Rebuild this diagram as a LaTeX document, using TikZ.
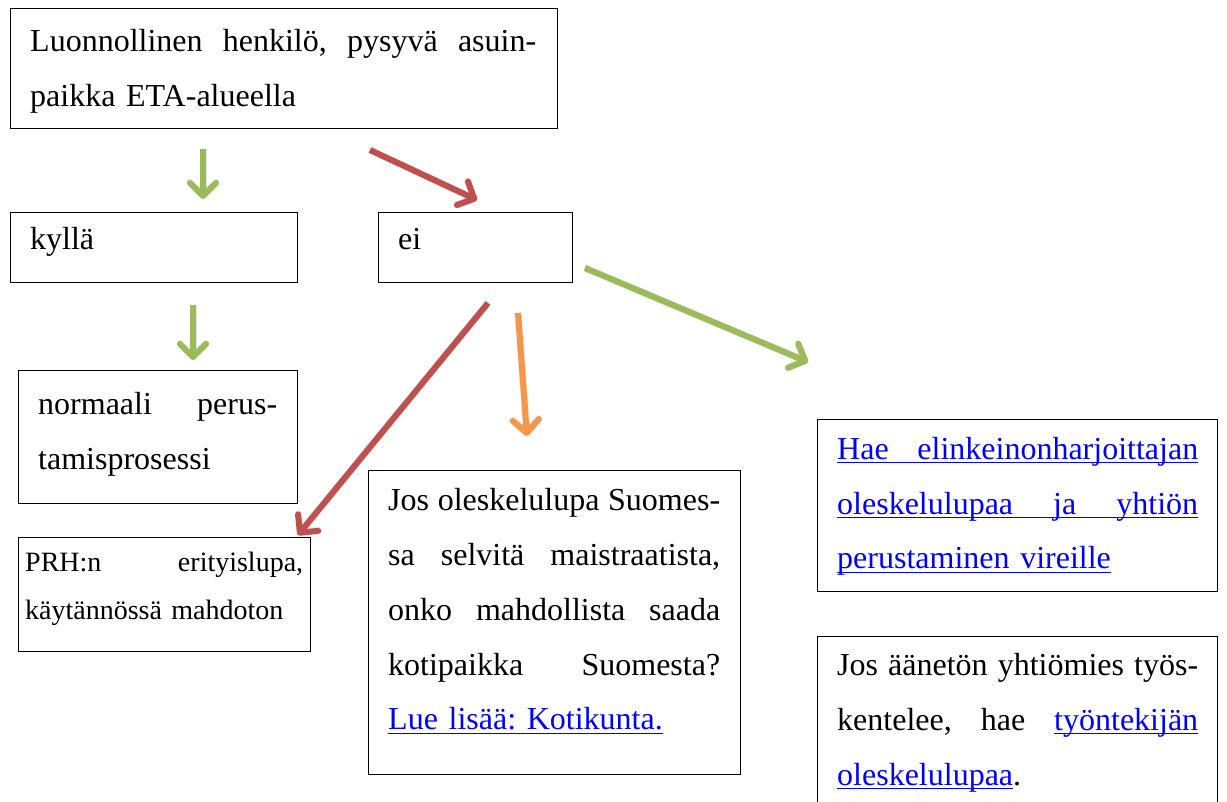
\documentclass[tikz,border=0pt]{standalone}
\usepackage{fontspec}
\setmainfont{Liberation Serif}
\usetikzlibrary{arrows.meta}
\definecolor{agreen}{HTML}{9BBB59}
\definecolor{ared}{HTML}{C0504D}
\definecolor{aorange}{HTML}{F79646}
\definecolor{lnk}{HTML}{0000FF}
\frenchspacing
\newcommand\J{\hfill}
\newcommand\fline[1]{\leavevmode\hbox to\linewidth{#1}}
\newcommand\ulj[1]{\leavevmode\hbox to\linewidth{#1}\llap{\rule[-4pt]{\linewidth}{1.3pt}}}
\newcommand\uln[1]{\leavevmode\sbox0{#1}\usebox0\llap{\rule[-4pt]{\wd0}{1.3pt}}}
\begin{document}
\begin{tikzpicture}[x=1pt,y=-1pt,
  box/.style={draw, line width=1.1pt, rectangle, inner sep=0pt, anchor=north west},
  txt/.style={anchor=base west, inner sep=0pt, align=left, font=\fontsize{32}{55}\selectfont},
  smalltxt/.style={anchor=base west, inner sep=0pt, align=left, font=\fontsize{28}{48}\selectfont},
  arr/.style={line width=6pt, -{Straight Barb[length=13pt,width=26pt,round]}},
  shad/.style={line width=7pt, black, opacity=0.10, -{Straight Barb[length=13pt,width=26pt,round]}, shift={(2pt,-2pt)}}]
\useasboundingbox (0,0) rectangle (1227,802);
\clip (0,0) rectangle (1227,802);
\fill[white] (0,0) rectangle (1227,802);
% boxes
\node[box, minimum width=547pt, minimum height=120pt] (top) at (10,8) {};
\node[box, minimum width=287pt, minimum height=70pt] (yes) at (10,212) {};
\node[box, minimum width=194pt, minimum height=70pt] (no) at (378,212) {};
\node[box, minimum width=279pt, minimum height=133pt] (norm) at (18,370) {};
\node[box, minimum width=292pt, minimum height=114pt] (prh) at (18,537) {};
\node[box, minimum width=372pt, minimum height=304pt] (jos) at (368,470) {};
\node[box, minimum width=400pt, minimum height=172pt] (hae) at (817,419) {};
\node[box, minimum width=400pt, minimum height=220pt] (aan) at (817,636) {};
% texts
\node[txt, text width=506pt] (toptxt) at (30,52) {\fline{Luonnollinen\J henkilö,\J pysyvä\J asuin-}\\paikka ETA-alueella};
\node[txt] (yestxt) at (30,250) {kyllä};
\node[txt] (notxt) at (398,250) {ei};
\node[txt, text width=239pt] (normtxt) at (38,414) {\fline{normaali\J perus-}\\tamisprosessi};
\node[smalltxt, text width=278pt] (prhtxt) at (25,571) {\fline{PRH:n\J erityislupa,}\\käytännössä mahdoton};
\node[txt, text width=332pt] (jostxt) at (388,510) {\fline{Jos\J oleskelulupa\J Suomes-}\\\fline{sa\J selvitä\J maistraatista,}\\\fline{onko\J mahdollista\J saada}\\\fline{kotipaikka\J Suomesta?}\\\textcolor{lnk}{\uln{Lue lisää: Kotikunta.}}};
\node[txt, text width=361pt, text=lnk] (haetxt) at (837,459) {\ulj{Hae\J elinkeinonharjoittajan}\\\ulj{oleskelulupaa\J ja\J yhtiön}\\\uln{perustaminen vireille}};
\node[txt, text width=361pt] (aantxt) at (837,675) {\fline{Jos\J äänetön\J yhtiömies\J työs-}\\\fline{kentelee,\J hae\J \textcolor{lnk}{\uln{työntekijän}}}\\\textcolor{lnk}{\uln{oleskelulupaa}}.};
% arrow end points
\coordinate (g1s) at (203,149); \coordinate (g1e) at (203,199);
\coordinate (r1s) at (370,150); \coordinate (r1e) at (477,200);
\coordinate (g2s) at (193,305); \coordinate (g2e) at (193,360);
\coordinate (r2s) at (488,303); \coordinate (r2e) at (298,535);
\coordinate (o1s) at (518,313); \coordinate (o1e) at (527,436);
\coordinate (g3s) at (585,268); \coordinate (g3e) at (808,362);
\foreach \a/\b in {g1s/g1e, r1s/r1e, g2s/g2e, r2s/r2e, o1s/o1e, g3s/g3e}
  \draw[shad] (\a) -- (\b);
\draw[arr, agreen] (g1s) -- (g1e);
\draw[arr, ared] (r1s) -- (r1e);
\draw[arr, agreen] (g2s) -- (g2e);
\draw[arr, ared] (r2s) -- (r2e);
\draw[arr, aorange] (o1s) -- (o1e);
\draw[arr, agreen] (g3s) -- (g3e);
\end{tikzpicture}
\end{document}
